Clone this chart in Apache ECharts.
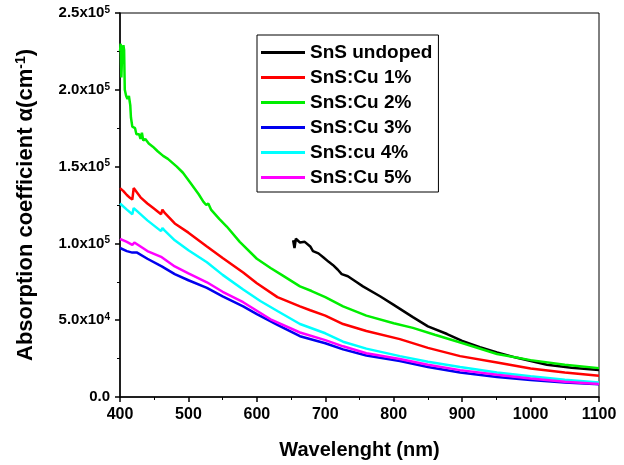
<!DOCTYPE html>
<html>
<head>
<meta charset="utf-8">
<script src="https://cdn.jsdelivr.net/npm/echarts@6/dist/echarts.min.js"></script>
<style>html,body{margin:0;padding:0;background:#fff}#c{width:624px;height:465px}</style>
</head>
<body>
<div id="c"></div>
<script>
// ---- Data (wavelength in nm, absorption coefficient in cm^-1) ----
const seriesNames = ['SnS undoped', 'SnS:Cu 1%', 'SnS:Cu 2%', 'SnS:Cu 3%', 'SnS:cu 4%', 'SnS:Cu 5%'];
const seriesColors = ['#000000', '#ff0000', '#00ee00', '#0000ee', '#00ffff', '#ff00ff'];

const undopedNm    = [653, 655, 657, 663, 670, 678, 682, 690, 697, 705, 711, 718, 724, 733, 745, 755, 780, 800, 828, 850, 878, 900, 926, 951, 980, 1024, 1060, 1100];
const undopedAlpha = [102000, 97000, 103000, 100600, 101000, 98000, 95000, 93500, 91000, 88000, 86000, 83000, 80000, 78600, 75000, 72000, 65600, 60000, 52000, 46000, 41000, 36500, 32500, 29000, 25500, 21000, 19000, 17500];

const cu1Nm    = [400, 405, 410, 415, 418, 420, 422, 430, 440, 450, 460, 462, 465, 480, 500, 527, 550, 580, 600, 630, 663, 678, 700, 726, 760, 809, 850, 897, 951, 1000, 1050, 1100];
const cu1Alpha = [136000, 134000, 131500, 129500, 128500, 136000, 135000, 130000, 126000, 122500, 119000, 122000, 120000, 113000, 107000, 98000, 90500, 81000, 74000, 65000, 59000, 56500, 53000, 47500, 43000, 37700, 32000, 26600, 22500, 18500, 16000, 13800];

const cu2Nm    = [400, 401, 402, 403, 405, 406, 407, 409, 411, 413, 415, 416, 418, 420, 422, 424, 426, 428, 430, 432, 434, 437, 442, 448, 455, 463, 470, 483, 492, 502, 515, 522, 526, 529, 533, 545, 556, 575, 600, 620, 638, 663, 680, 700, 726, 760, 800, 828, 860, 901, 951, 1000, 1050, 1100];
const cu2Alpha = [225000, 230000, 208000, 222000, 229000, 226000, 200000, 196000, 194000, 196000, 190000, 182000, 176000, 175000, 175000, 171000, 170000, 171000, 168000, 172000, 167000, 168000, 165000, 163000, 160000, 157000, 155000, 150000, 146000, 140000, 132000, 127000, 125000, 126000, 122000, 116000, 111000, 101000, 90000, 84000, 79000, 72000, 69000, 65000, 59000, 53000, 48000, 45000, 40500, 35000, 28000, 24000, 21000, 18800];

const cu3Nm    = [400, 410, 418, 425, 440, 461, 480, 500, 527, 550, 580, 600, 630, 663, 700, 726, 760, 809, 850, 897, 951, 1000, 1050, 1100];
const cu3Alpha = [97000, 95000, 94000, 94000, 90000, 85000, 80000, 76000, 71000, 65500, 59000, 54000, 47000, 39600, 35000, 31000, 27000, 23400, 19500, 16000, 13000, 11000, 9500, 8300];

const cu4Nm    = [400, 410, 418, 420, 425, 440, 460, 462, 465, 480, 500, 527, 550, 580, 605, 630, 663, 700, 726, 760, 809, 850, 897, 951, 1000, 1050, 1100];
const cu4Alpha = [126000, 122000, 119000, 123000, 121000, 115000, 108000, 110000, 108500, 102000, 95500, 87700, 79500, 70000, 62500, 56000, 47500, 41500, 36000, 31500, 26600, 23000, 19500, 16000, 13500, 11300, 9500];

const cu5Nm    = [400, 410, 418, 421, 430, 440, 461, 463, 480, 500, 527, 550, 580, 620, 663, 700, 726, 760, 809, 850, 897, 951, 1000, 1050, 1100];
const cu5Alpha = [103000, 101000, 99000, 100600, 98000, 95000, 91000, 91000, 85000, 80500, 74700, 68500, 61700, 50600, 42000, 37000, 33000, 28500, 24700, 21000, 17500, 14500, 12000, 10000, 8500];

const xTicks = [400, 500, 600, 700, 800, 900, 1000, 1100];
const yTicks = [0, 50000, 100000, 150000, 200000, 250000];

// ---- Build chart ----
const pairs = (xs, ys) => xs.map((x, i) => [x, ys[i]]);
const allData = [
  pairs(undopedNm, undopedAlpha),
  pairs(cu1Nm, cu1Alpha),
  pairs(cu2Nm, cu2Alpha),
  pairs(cu3Nm, cu3Alpha),
  pairs(cu4Nm, cu4Alpha),
  pairs(cu5Nm, cu5Alpha)
];

const FONT = '"Liberation Sans", Arial, sans-serif';

function yFmt(v) {
  if (v === 0) return '{b|0.0}';
  const e = Math.floor(Math.log10(v) + 1e-9);
  const m = (v / Math.pow(10, e)).toFixed(1);
  return '{b|' + m + 'x10}{s|' + e + '}';
}

const chart = echarts.init(document.getElementById('c'), null, {renderer: 'canvas'});
chart.setOption({
  animation: false,
  backgroundColor: '#fff',
  grid: {left: 120, right: 25, top: 13, bottom: 67, show: true, borderColor: '#000', borderWidth: 1},
  legend: {
    orient: 'vertical',
    left: 257, top: 35,
    data: seriesNames,
    icon: 'rect',
    itemWidth: 44, itemHeight: 3,
    itemGap: 6,
    padding: [8, 6, 5, 4],
    borderColor: '#000', borderWidth: 1,
    textStyle: {fontFamily: FONT, fontWeight: 'bold', fontSize: 19, color: '#000', lineHeight: 19}
  },
  xAxis: {
    type: 'value', min: 400, max: 1100, interval: 100,
    name: 'Wavelenght (nm)', nameLocation: 'middle', nameGap: 43,
    nameTextStyle: {fontFamily: FONT, fontWeight: 'bold', fontSize: 20, color: '#000'},
    axisLine: {show: true, lineStyle: {color: '#000', width: 1.5}},
    axisTick: {show: true, inside: false, length: 5, lineStyle: {color: '#000', width: 1.5}},
    minorTick: {show: true, splitNumber: 2, length: 3, lineStyle: {color: '#000', width: 1}},
    splitLine: {show: false},
    axisLabel: {margin: 10, fontFamily: FONT, fontWeight: 'bold', fontSize: 16, color: '#000',
      formatter: v => (xTicks.indexOf(v) >= 0 ? String(v) : '')}
  },
  yAxis: {
    type: 'value', min: 0, max: 250000, interval: 50000,
    name: '{n|Absorption coefficient α(cm}{s|-1}{n|)}', nameLocation: 'middle', nameGap: 82,
    nameTextStyle: {fontFamily: FONT, fontWeight: 'bold', fontSize: 22, color: '#000',
      rich: {
        n: {fontFamily: FONT, fontWeight: 'bold', fontSize: 22, color: '#000', lineHeight: 24},
        s: {fontFamily: FONT, fontWeight: 'bold', fontSize: 14, color: '#000', verticalAlign: 'top', lineHeight: 14}
      }},
    axisLine: {show: true, lineStyle: {color: '#000', width: 1.5}},
    axisTick: {show: true, inside: false, length: 5, lineStyle: {color: '#000', width: 1.5}},
    minorTick: {show: true, splitNumber: 2, length: 3, lineStyle: {color: '#000', width: 1}},
    splitLine: {show: false},
    axisLabel: {
      margin: 10,
      formatter: v => (yTicks.indexOf(v) >= 0 ? yFmt(v) : ''),
      rich: {
        b: {fontFamily: FONT, fontWeight: 'bold', fontSize: 15, color: '#000', lineHeight: 16},
        s: {fontFamily: FONT, fontWeight: 'bold', fontSize: 10, color: '#000', verticalAlign: 'top', lineHeight: 10}
      }
    }
  },
  series: seriesNames.map((n, i) => ({
    name: n, type: 'line', data: allData[i], showSymbol: false, symbol: 'none',
    lineStyle: {width: 2.5, color: seriesColors[i]}, itemStyle: {color: seriesColors[i]},
    z: 2 + (i === 0 ? 0 : 1)
  }))
});
</script>
</body>
</html>
